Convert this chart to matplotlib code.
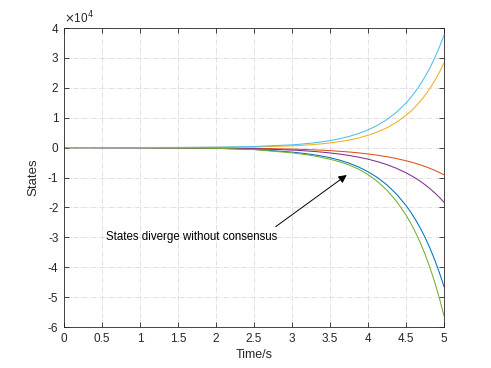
import matplotlib
matplotlib.use("Agg")
import matplotlib.pyplot as plt
from matplotlib.ticker import FuncFormatter

plt.rcParams['font.family'] = ['Liberation Sans', 'DejaVu Sans']

# time samples (s)
t = [0, 0.5, 1, 1.5, 2, 2.5, 3, 3.125, 3.25, 3.375, 3.5, 3.625, 3.75, 3.875, 4,
     4.125, 4.25, 4.375, 4.5, 4.5625, 4.625, 4.6875, 4.75, 4.8125, 4.875, 4.9375, 5]

cyan = [0, 9, 23, 58, 147, 370, 930, 1175, 1480, 1865, 2350, 2960, 3730, 4700, 5920,
        7460, 9400, 11840, 14920, 16750, 18800, 21100, 23680, 26580, 29840, 33500, 37600]
orange = [0, 5, 14, 35, 90, 230, 595, 760, 965, 1230, 1565, 1990, 2530, 3225, 4100,
          5230, 6650, 8470, 10780, 12160, 13720, 15480, 17470, 19710, 22230, 25080, 28300]
red = [0, -13, -27, -55, -115, -235, -490, -590, -710, -850, -1020, -1225, -1470, -1765, -2120,
       -2540, -3050, -3660, -4390, -4810, -5270, -5770, -6320, -6920, -7580, -8300, -9100]
purple = [0, -17, -37, -80, -175, -380, -820, -995, -1210, -1470, -1780, -2160, -2625, -3190, -3870,
          -4700, -5710, -6935, -8420, -9280, -10220, -11260, -12410, -13680, -15070, -16610, -18300]
blue = [0, -17, -40, -100, -240, -600, -1500, -1850, -2250, -2750, -3350, -4175, -5200, -6470, -8060,
        -10030, -12490, -15550, -19360, -21600, -24100, -26890, -30000, -33470, -37350, -41680, -46500]
green = [0, -15, -37, -92, -230, -650, -1750, -2150, -2600, -3200, -3900, -4700, -5800, -7200, -9030,
         -11350, -14270, -17940, -22550, -25280, -28350, -31780, -35630, -39950, -44790, -50220, -56300]

series = [blue, red, orange, purple, green, cyan]
colors = ['#0072BD', '#D95319', '#EDB120', '#7E2F8E', '#77AC30', '#4DBEEE']

xticks = [0, 0.5, 1, 1.5, 2, 2.5, 3, 3.5, 4, 4.5, 5]
yticks = [-60000, -50000, -40000, -30000, -20000, -10000, 0, 10000, 20000, 30000, 40000]

fig = plt.figure(figsize=(4.91, 3.68), dpi=100)
ax = fig.add_axes([0.1303, 0.1114, 0.774, 0.8125])

for s, c in zip(series, colors):
    ax.plot(t, s, color=c, lw=0.75)

ax.set_xlim(0, 5)
ax.set_ylim(-60000, 40000)
ax.set_xticks(xticks)
ax.set_yticks(yticks)
ax.xaxis.set_major_formatter(FuncFormatter(lambda v, p: f'{v:g}'))
ax.yaxis.set_major_formatter(FuncFormatter(lambda v, p: f'{v/1e4:g}'))

ax.grid(True, color='#DCDCDC', linestyle='-.', linewidth=0.6)
ax.set_axisbelow(True)
ax.tick_params(direction='in', top=True, right=True, length=3.5, width=0.6,
               labelsize=8.5, colors='#262626', pad=4)
for sp in ax.spines.values():
    sp.set_color('#262626')
    sp.set_linewidth(0.6)

ax.set_xlabel('Time/s', fontsize=9, color='#262626', labelpad=3)
ax.set_ylabel('States', fontsize=9.5, color='#262626', labelpad=6)

ax.text(0.0, 1.005, r'$\times$10$^{4}$', transform=ax.transAxes, fontsize=8.5,
        color='#262626', ha='left', va='bottom')

ax.annotate('', xy=(3.72, -9160), xytext=(2.785, -26450),
            arrowprops=dict(arrowstyle='-|>', color='black', lw=0.7,
                            mutation_scale=12, shrinkA=0, shrinkB=0))
ax.text(0.553, -29900, 'States diverge without consensus', fontsize=8.3,
        color='black', ha='left', va='center')

fig.savefig('out.png', dpi=100)
